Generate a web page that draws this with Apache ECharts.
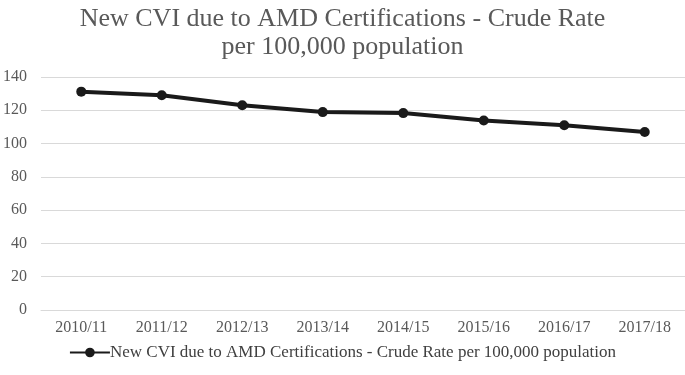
<!DOCTYPE html>
<html>
<head>
<meta charset="utf-8">
<script src="https://cdn.jsdelivr.net/npm/echarts@6/dist/echarts.min.js"></script>
<style>
  html, body { margin: 0; padding: 0; background: #fff; }
  #chart { width: 685px; height: 375px; }
</style>
</head>
<body>
<div id="chart"></div>
<script>
const seasons = ['2010/11', '2011/12', '2012/13', '2013/14', '2014/15', '2015/16', '2016/17', '2017/18']
const crudeRate = [131.2, 129.0, 123.0, 118.9, 118.3, 113.9, 111.0, 106.9]
const seriesName = 'New CVI due to AMD Certifications - Crude Rate per 100,000 population'

const chart = echarts.init(document.getElementById('chart'))
const serif = '"Liberation Serif", "DejaVu Serif", serif'

chart.setOption({
  animation: false,
  title: {
    text: 'New CVI due to AMD Certifications - Crude Rate\nper 100,000 population',
    left: 'center',
    top: 0,
    textStyle: {
      fontFamily: serif,
      fontWeight: 'normal',
      fontSize: 26,
      lineHeight: 28,
      color: '#595959'
    }
  },
  grid: { left: 38, right: 0, top: 77, bottom: 65 },
  legend: {
    bottom: 9,
    left: 'center',
    itemWidth: 40,
    itemHeight: 12,
    itemGap: 0,
    textStyle: { fontFamily: serif, fontSize: 17, color: '#404040', padding: [0, 0, 0, -5] },
    data: [seriesName]
  },
  xAxis: {
    type: 'category',
    data: seasons,
    axisLine: { lineStyle: { color: '#d9d9d9' } },
    axisTick: { show: false },
    axisLabel: { fontFamily: serif, fontSize: 16, color: '#595959', margin: 10 }
  },
  yAxis: {
    type: 'value',
    min: 0,
    max: 140,
    interval: 20,
    splitLine: { lineStyle: { color: '#d9d9d9' } },
    axisLabel: { fontFamily: serif, fontSize: 16, color: '#595959', margin: 14 }
  },
  series: [{
    name: seriesName,
    type: 'line',
    data: crudeRate,
    symbol: 'circle',
    symbolSize: 10,
    lineStyle: { color: '#1a1a1a', width: 4 },
    itemStyle: { color: '#1a1a1a' }
  }]
})
</script>
</body>
</html>
